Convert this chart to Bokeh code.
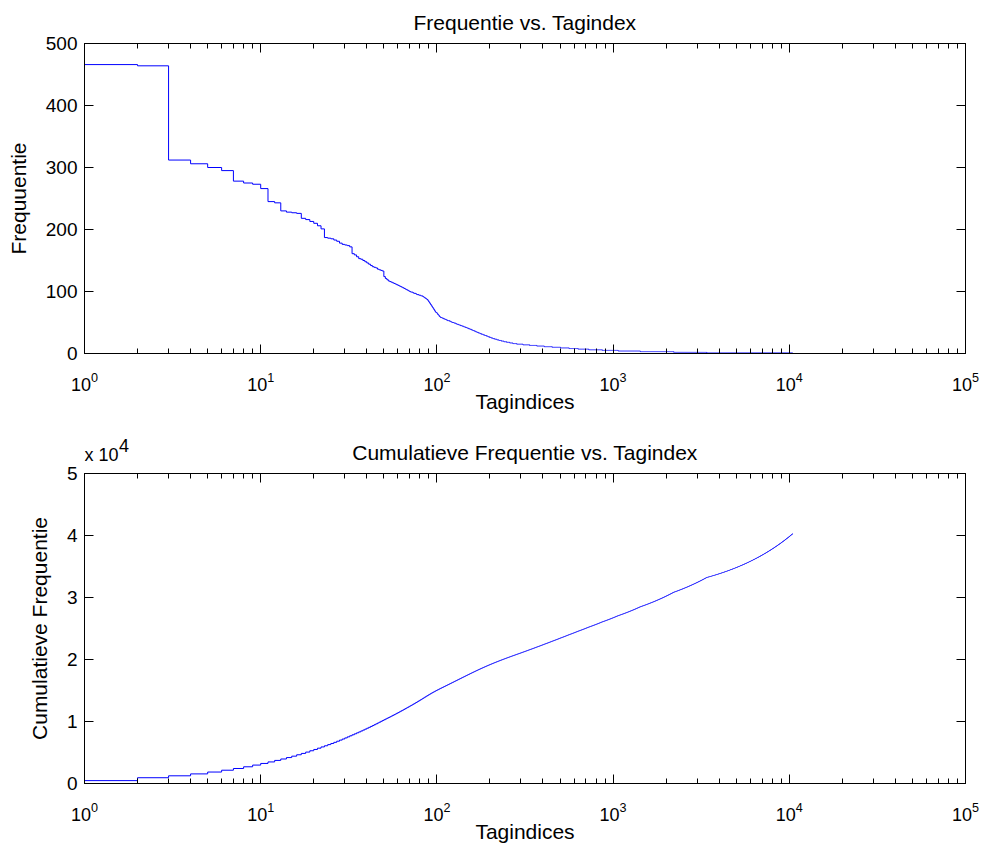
import numpy as np
from bokeh.plotting import figure
from bokeh.models import (ColumnDataSource, Range1d, FixedTicker, LogAxis, LinearAxis,
                          LabelSet, CustomJSTickFormatter)
from bokeh.core.properties import value
from bokeh.layouts import column
from bokeh.embed import file_html
from bokeh.resources import INLINE

FONT = "Liberation Sans"
BLUE = "#0000ff"

# Frequency of the most used tags, in rank order (tag index 1..104)
head_freq = [466, 464, 312, 306, 300, 295, 278, 275, 273, 266,
             245, 243, 230, 228, 227, 226, 218, 216, 213, 210,
             206, 201, 187, 186, 185, 183, 181, 178, 176, 175,
             174, 172, 161, 159, 156, 153, 152, 150, 148, 146,
             144, 142, 140, 139, 138, 136, 135, 134, 133, 124,
             121, 119, 117, 116, 115, 114, 113, 112, 111, 110,
             109, 108, 107, 106, 105, 104, 103, 102, 101, 100,
             99, 99, 98, 97, 97, 96, 95, 95, 94, 94,
             93, 93, 92, 91, 90, 89, 88, 87, 85, 83,
             81, 79, 77, 75, 73, 71, 69, 67, 66, 65,
             63, 62, 60, 59]

# Remaining tags grouped by frequency: each level and how many tags share it
tail_level = [58, 57, 56, 55, 54, 53, 52, 51, 50,
              49, 48, 47, 46, 45, 44, 43, 42, 41,
              40, 39, 38, 37, 36, 35, 34, 33, 32,
              31, 30, 29, 28, 27, 26, 25, 24,
              23, 22, 21, 20, 19, 18, 17, 16,
              15, 14, 13, 12, 11, 10, 9,
              8, 7, 6, 5,
              4, 3, 2, 1]
tail_count = [2, 2, 2, 2, 2, 3, 2, 2, 3,
              3, 2, 3, 3, 3, 3, 3, 3, 3,
              3, 3, 3, 3, 3, 3, 3, 4, 3,
              4, 4, 4, 4, 4, 4, 5, 5,
              6, 6, 7, 8, 9, 10, 11, 14,
              24, 28, 33, 38, 44, 52, 60,
              70, 95, 140, 200,
              360, 780, 1193, 7070]

# Axis ticks
decades = [1, 10, 100, 1000, 10000, 100000]
freq_ticks = [0, 100, 200, 300, 400, 500]
cum_ticks = [0, 10000, 20000, 30000, 40000, 50000]

freq = np.concatenate([np.array(head_freq), np.repeat(tail_level, tail_count)])
rank = np.arange(1, len(freq) + 1)
cum = np.cumsum(freq)
src = ColumnDataSource(dict(rank=rank, freq=freq, cum=cum))

minor_x = [m * d for d in decades[:-1] for m in range(2, 10)]

# page geometry (pixels)
W = 982
FRAME_L, FRAME_R = 84, 965
STRIP_H = 34          # strip above each plot carrying its title
TOP_PLOT_H = 396      # top plot: frame from 43 to 353
BOT_PLOT_H = 391      # bottom plot: frame from 473 to 783
mid_x = float(np.sqrt(decades[0] * decades[-1]))


def style_axis(ax, show_labels, size="19px"):
    ax.axis_line_color = "black"
    ax.axis_line_width = 1
    ax.major_tick_line_color = "black"
    ax.minor_tick_line_color = "black"
    ax.major_tick_in = 9
    ax.major_tick_out = 0
    ax.minor_tick_in = 5
    ax.minor_tick_out = 0
    ax.major_label_text_font = FONT
    ax.major_label_text_color = "black"
    if show_labels:
        ax.major_label_text_font_size = size
    else:
        ax.major_label_text_font_size = "1px"
        ax.major_label_text_alpha = 0
        ax.major_label_standoff = 0
    ax.axis_label_text_font = FONT
    ax.axis_label_text_font_size = "21px"
    ax.axis_label_text_font_style = "normal"
    ax.axis_label_text_color = "black"


def strip(height):
    s = figure(width=W, height=height, x_axis_type="log",
               x_range=Range1d(decades[0], decades[-1]),
               y_range=Range1d(0, height), x_axis_location=None, y_axis_location=None,
               output_backend="svg", toolbar_location=None,
               min_border_left=FRAME_L, min_border_right=W - FRAME_R,
               min_border_top=0, min_border_bottom=0)
    s.title_location = None
    s.outline_line_color = None
    s.grid.visible = False
    s.background_fill_color = "white"
    s.border_fill_color = "white"
    return s


def put_text(s, x, y, t, size, align="left", dx=0):
    ts = ColumnDataSource(dict(x=[x], y=[y], t=[t]))
    s.add_layout(LabelSet(x="x", y="y", text="t", source=ts, text_align=align,
                          text_baseline="alphabetic", x_offset=dx,
                          text_font=value(FONT), text_font_size=value(size),
                          text_color="black"))


def make_panel(ylabel, field, y_end, yticks, height, top, bottom, yfmt=None):
    p = figure(width=W, height=height, x_axis_type="log",
               x_range=Range1d(decades[0], decades[-1]),
               y_range=Range1d(0, y_end),
               output_backend="svg", toolbar_location=None,
               min_border_left=FRAME_L, min_border_right=W - FRAME_R,
               min_border_top=top, min_border_bottom=bottom)
    p.title_location = None
    p.background_fill_color = "white"
    p.border_fill_color = "white"
    p.outline_line_color = "black"
    p.xgrid.visible = False
    p.ygrid.visible = False

    xa = p.xaxis[0]
    xa.ticker = FixedTicker(ticks=decades, minor_ticks=minor_x)
    style_axis(xa, True, "18px")
    xa.major_label_standoff = 18
    xa.axis_label = "Tagindices"
    xa.axis_label_standoff = -4

    ya = p.yaxis[0]
    ya.ticker = FixedTicker(ticks=yticks)
    style_axis(ya, True)
    ya.minor_tick_line_color = None
    ya.axis_label = ylabel
    ya.axis_label_standoff = 13
    ya.major_label_standoff = 7
    if yfmt is not None:
        ya.formatter = yfmt

    top_ax = LogAxis(ticker=FixedTicker(ticks=decades, minor_ticks=minor_x))
    style_axis(top_ax, False)
    p.add_layout(top_ax, "above")

    right_ax = LinearAxis(ticker=FixedTicker(ticks=yticks))
    style_axis(right_ax, False)
    right_ax.minor_tick_line_color = None
    p.add_layout(right_ax, "right")

    p.step("rank", field, source=src, mode="after", line_color=BLUE, line_width=1)
    return p


# title strips: text baselines measured up from each strip's bottom edge
top_title = strip(STRIP_H)
put_text(top_title, mid_x, 5, "Frequentie vs. Tagindex", "21px", "center")

top = make_panel("Frequuentie", "freq", freq_ticks[-1], freq_ticks, TOP_PLOT_H, 9, 77)

bot_title = strip(STRIP_H)
put_text(bot_title, mid_x, 4.7, "Cumulatieve Frequentie vs. Tagindex", "21px", "center")
# power-of-ten multiplier for the cumulative axis
put_text(bot_title, decades[0], 3.8, "x 10", "18px", "left")
put_text(bot_title, decades[0], 12.8, "4", "18px", "left", dx=34.5)

cum_fmt = CustomJSTickFormatter(code="return (tick / 10000).toFixed(0);")
bot = make_panel("Cumulatieve Frequentie", "cum", cum_ticks[-1], cum_ticks, BOT_PLOT_H, 9, 72,
                 yfmt=cum_fmt)

layout = column(top_title, top, bot_title, bot, spacing=0)
open("out.html", "w").write(file_html(layout, INLINE))
